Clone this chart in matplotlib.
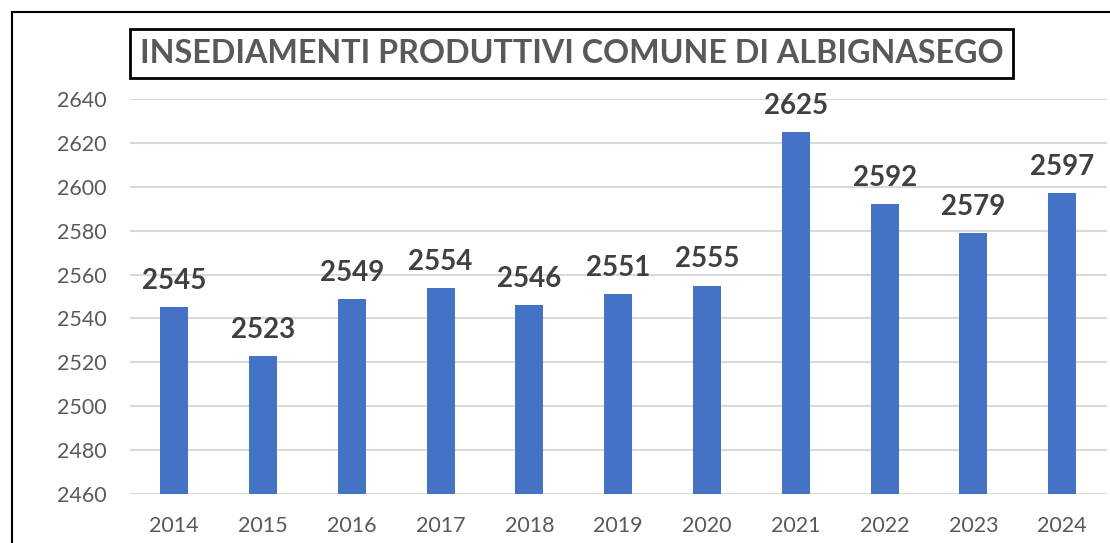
import matplotlib.pyplot as plt
from matplotlib.lines import Line2D

years = ['2014', '2015', '2016', '2017', '2018', '2019', '2020', '2021', '2022', '2023', '2024']
counts = [2545, 2523, 2549, 2554, 2546, 2551, 2555, 2625, 2592, 2579, 2597]
yticks = [2460, 2480, 2500, 2520, 2540, 2560, 2580, 2600, 2620, 2640]

plt.rcParams['font.family'] = ['Lato', 'DejaVu Sans']

fig = plt.figure(figsize=(11.10, 5.43), dpi=100)
ax = fig.add_axes([0.117, 0.0902, 0.88, 0.7275])

x = list(range(len(years)))
ax.bar(x, counts, width=0.315, color='#4472C4', zorder=3)
for xi, v in zip(x, counts):
    ax.text(xi, v + 6, str(v), ha='center', va='bottom', fontsize=20,
            fontweight='bold', color='#404040')

ax.set_xlim(-0.5, len(years) - 0.5)
ax.set_ylim(2460, 2640)
ax.set_yticks(yticks)
ax.set_xticks(x)
ax.set_xticklabels(years)
ax.tick_params(axis='both', length=0, labelsize=15.5, colors='#595959')
ax.tick_params(axis='x', pad=16)
ax.tick_params(axis='y', pad=17)
ax.grid(axis='y', color='#D9D9D9', linewidth=1.5, zorder=0)
for s in ax.spines.values():
    s.set_visible(False)

fig.text(0.5149, 0.9015, 'INSEDIAMENTI PRODUTTIVI COMUNE DI ALBIGNASEGO',
         ha='center', va='center', fontsize=23.2, fontweight='bold', color='#595959',
         bbox=dict(boxstyle='square,pad=0.3', facecolor='white', edgecolor='black', linewidth=2))

# outer frame (only left and top visible)
fig.add_artist(Line2D([0.0105, 0.0105], [0, 0.978], color='black', linewidth=1.5, transform=fig.transFigure))
fig.add_artist(Line2D([0.0105, 1.0], [0.978, 0.978], color='black', linewidth=1.5, transform=fig.transFigure))

fig.savefig('out.png', dpi=100)
